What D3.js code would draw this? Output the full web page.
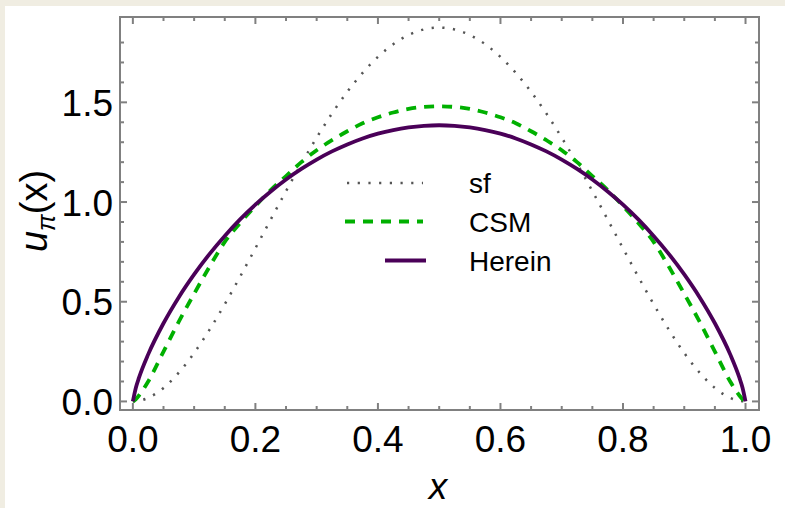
<!DOCTYPE html>
<html>
<head>
<meta charset="utf-8">
<script src="https://cdn.jsdelivr.net/npm/d3@7"></script>
<style>
  body { margin: 0; background: #f0ede2; }
  svg { display: block; }
  text { font-family: "Liberation Sans", Arial, sans-serif; }
</style>
</head>
<body>
<div id="chart"></div>
<script>
// momentum fraction grid
var xs = [0, 0.005, 0.01, 0.025, 0.05, 0.075, 0.1, 0.125, 0.15, 0.175, 0.2, 0.225, 0.25,
          0.275, 0.3, 0.325, 0.35, 0.375, 0.4, 0.425, 0.45, 0.475, 0.5,
          0.525, 0.55, 0.575, 0.6, 0.625, 0.65, 0.675, 0.7, 0.725, 0.75, 0.775, 0.8,
          0.825, 0.85, 0.875, 0.9, 0.925, 0.95, 0.975, 0.99, 0.995, 1];

var sfVals = [0, 0.0007, 0.0029, 0.0178, 0.0677, 0.1444, 0.243, 0.3589, 0.4877, 0.6253, 0.768, 0.9122, 1.0547,
              1.1925, 1.323, 1.4438, 1.5527, 1.6479, 1.728, 1.7916, 1.8377, 1.8656, 1.875,
              1.8656, 1.8377, 1.7916, 1.728, 1.6479, 1.5527, 1.4438, 1.323, 1.1925, 1.0547, 0.9122, 0.768,
              0.6253, 0.4877, 0.3589, 0.243, 0.1444, 0.0677, 0.0178, 0.0029, 0.0007, 0];

var csmVals = [0, 0.012, 0.03, 0.10, 0.25, 0.40, 0.54, 0.675, 0.80, 0.895, 0.98, 1.06, 1.13,
               1.20, 1.26, 1.31, 1.355, 1.395, 1.425, 1.449, 1.467, 1.477, 1.48,
               1.477, 1.467, 1.449, 1.425, 1.395, 1.355, 1.31, 1.26, 1.20, 1.13, 1.06, 0.98,
               0.895, 0.80, 0.675, 0.54, 0.40, 0.25, 0.10, 0.03, 0.012, 0];

var hereinVals = [0, 0.07, 0.119, 0.236, 0.392, 0.523, 0.637, 0.739, 0.830, 0.913, 0.987, 1.053, 1.113,
                  1.166, 1.213, 1.254, 1.289, 1.319, 1.343, 1.361, 1.374, 1.382, 1.385,
                  1.382, 1.374, 1.361, 1.343, 1.319, 1.289, 1.254, 1.213, 1.166, 1.113, 1.053, 0.987,
                  0.913, 0.830, 0.739, 0.637, 0.523, 0.392, 0.236, 0.119, 0.07, 0];

var xTicks = [0, 0.2, 0.4, 0.6, 0.8, 1.0];
var yTicks = [0, 0.5, 1.0, 1.5];

var series = [
    {name: "sf", values: sfVals, color: "#555555", width: 2.5, dash: "2.2,8.5"},
    {name: "CSM", values: csmVals, color: "#00b000", width: 3.8, dash: "10,8"},
    {name: "Herein", values: hereinVals, color: "#4a0058", width: 3.8, dash: null}
];

var W = 785, H = 508;
var pLeft = 120, pRight = 759, pTop = 17, pBottom = 410;

var svg = d3.select("#chart").append("svg")
    .attr("width", W)
    .attr("height", H);

// white panel
svg.append("rect")
    .attr("x", 5).attr("y", 6)
    .attr("width", W - 5).attr("height", H - 6)
    .attr("fill", "#ffffff");

var x = d3.scaleLinear().domain([-0.021, 1.022]).range([pLeft, pRight]);
var y = d3.scaleLinear().domain([-0.043, 1.928]).range([pBottom, pTop]);

var axisColor = "#808080";

// ticks (inward, all four sides)
var xMinor = d3.range(0, 1.0001, 0.05);
var yMinor = d3.range(0, 1.9, 0.1);

function isMajor(v, arr) {
    return arr.some(function(t) { return Math.abs(t - v) < 1e-6; });
}

var ticksG = svg.append("g").attr("stroke", axisColor).attr("stroke-width", 2);

xMinor.forEach(function(v) {
    var len = isMajor(v, xTicks) ? 7 : 4;
    ticksG.append("line").attr("x1", x(v)).attr("x2", x(v)).attr("y1", pBottom).attr("y2", pBottom - len);
    ticksG.append("line").attr("x1", x(v)).attr("x2", x(v)).attr("y1", pTop).attr("y2", pTop + len);
});
yMinor.forEach(function(v) {
    var len = isMajor(v, yTicks) ? 7 : 4;
    ticksG.append("line").attr("x1", pLeft).attr("x2", pLeft + len).attr("y1", y(v)).attr("y2", y(v));
    ticksG.append("line").attr("x1", pRight).attr("x2", pRight - len).attr("y1", y(v)).attr("y2", y(v));
});

// curves
var line = d3.line()
    .x(function(d) { return x(d[0]); })
    .y(function(d) { return y(d[1]); })
    .curve(d3.curveMonotoneX);

svg.append("clipPath").attr("id", "clip")
    .append("rect").attr("x", pLeft).attr("y", pTop)
    .attr("width", pRight - pLeft).attr("height", pBottom - pTop);

series.forEach(function(s) {
    var pts = xs.map(function(v, i) { return [v, s.values[i]]; });
    svg.append("path")
        .datum(pts)
        .attr("d", line)
        .attr("fill", "none")
        .attr("stroke", s.color)
        .attr("stroke-width", s.width)
        .attr("stroke-dasharray", s.dash)
        .attr("clip-path", "url(#clip)");
});

// frame
svg.append("rect")
    .attr("x", pLeft).attr("y", pTop)
    .attr("width", pRight - pLeft).attr("height", pBottom - pTop)
    .attr("fill", "none")
    .attr("stroke", axisColor)
    .attr("stroke-width", 2);

// tick labels
svg.selectAll(".xlab").data(xTicks).enter().append("text")
    .attr("x", function(d) { return x(d); })
    .attr("y", 452)
    .attr("text-anchor", "middle")
    .attr("font-size", 37)
    .attr("fill", "#000")
    .text(function(d) { return d.toFixed(1); });

svg.selectAll(".ylab").data(yTicks).enter().append("text")
    .attr("x", 113)
    .attr("y", function(d) { return y(d) + 13.5; })
    .attr("text-anchor", "end")
    .attr("font-size", 37)
    .attr("fill", "#000")
    .text(function(d) { return d.toFixed(1); });

// axis titles
svg.append("text")
    .attr("x", 438).attr("y", 499)
    .attr("text-anchor", "middle")
    .attr("font-size", 37)
    .attr("font-style", "italic")
    .text("x");

var yt = svg.append("text")
    .attr("transform", "translate(47,211) rotate(-90)")
    .attr("text-anchor", "middle")
    .attr("font-size", 38);
yt.append("tspan").attr("font-style", "italic").text("u");
yt.append("tspan").attr("font-style", "italic").attr("font-size", 25).attr("dy", 8).text("π");
yt.append("tspan").attr("dy", -8).text("(x)");

// legend
var legendRows = [
    {s: series[0], x1: 347, x2: 423, y: 183},
    {s: series[1], x1: 345, x2: 423, y: 221.5},
    {s: series[2], x1: 385, x2: 426, y: 260.5}
];
legendRows.forEach(function(r) {
    svg.append("line")
        .attr("x1", r.x1).attr("x2", r.x2)
        .attr("y1", r.y).attr("y2", r.y)
        .attr("stroke", r.s.color)
        .attr("stroke-width", r.s.width)
        .attr("stroke-dasharray", r.s.dash);
    svg.append("text")
        .attr("x", 469).attr("y", r.y + 10)
        .attr("font-size", 28)
        .attr("fill", "#000")
        .text(r.s.name);
});
</script>
</body>
</html>
